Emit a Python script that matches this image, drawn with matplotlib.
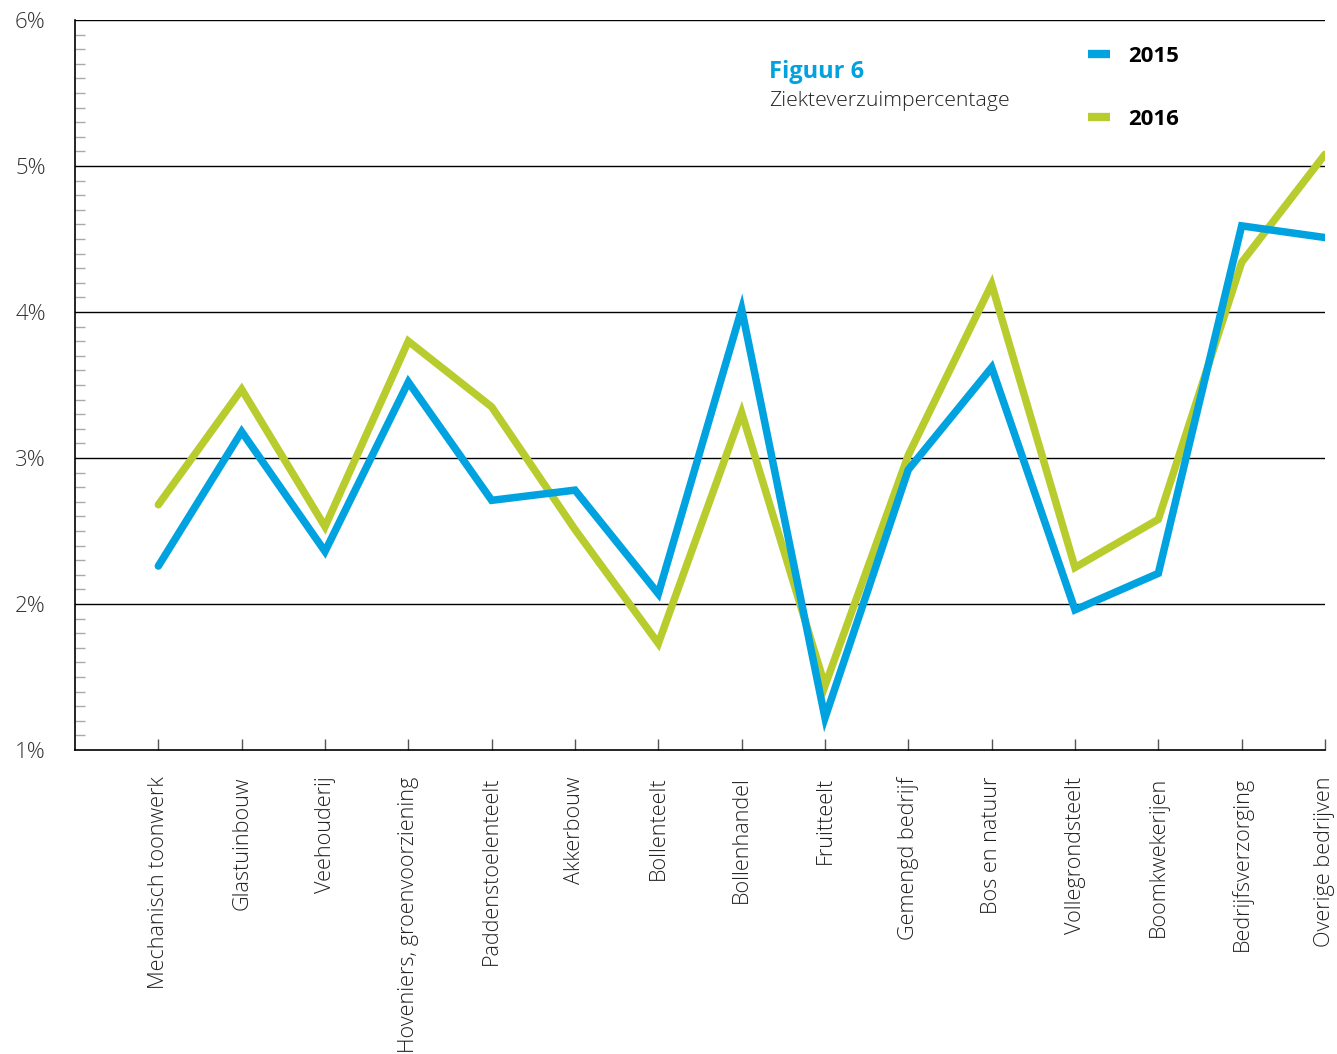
import matplotlib.pyplot as plt
from matplotlib.ticker import MultipleLocator, FuncFormatter

sectoren = ['Mechanisch toonwerk', 'Glastuinbouw', 'Veehouderij', 'Hoveniers, groenvoorziening',
            'Paddenstoelenteelt', 'Akkerbouw', 'Bollenteelt', 'Bollenhandel', 'Fruitteelt',
            'Gemengd bedrijf', 'Bos en natuur', 'Vollegrondsteelt', 'Boomkwekerijen',
            'Bedrijfsverzorging', 'Overige bedrijven']
verzuim_2015 = [2.26, 3.18, 2.36, 3.52, 2.71, 2.78, 2.07, 4.02, 1.22, 2.92, 3.62, 1.96, 2.21, 4.59, 4.51]
verzuim_2016 = [2.68, 3.47, 2.53, 3.80, 3.35, 2.51, 1.73, 3.31, 1.44, 3.02, 4.19, 2.25, 2.58, 4.34, 5.08]

blauw = '#00a3e0'
groen = '#b8cc2e'
plt.rcParams['font.family'] = ['Open Sans', 'DejaVu Sans']

fig = plt.figure(figsize=(13.37, 10.54), dpi=100)
ax = fig.add_axes([75 / 1337, 1 - 750 / 1054, 1250 / 1337, 730 / 1054])

x = list(range(len(sectoren)))
ax.plot(x, verzuim_2015, color=blauw, lw=5.4, solid_capstyle='round', solid_joinstyle='miter', label='2015', zorder=4)
ax.plot(x, verzuim_2016, color=groen, lw=5.4, solid_capstyle='round', solid_joinstyle='miter', label='2016', zorder=3)

ax.set_xlim(-1, 14)
ax.set_ylim(1, 6)
ax.set_yticks([1, 2, 3, 4, 5, 6])
ax.yaxis.set_major_formatter(FuncFormatter(lambda v, p: f'{int(v)}%'))
ax.yaxis.set_minor_locator(MultipleLocator(0.1))
ax.tick_params(axis='y', which='major', length=0, pad=21, labelsize=16, labelcolor='#333333')
ax.tick_params(axis='y', which='minor', direction='in', length=7, width=1, color='#aaaaaa')
for t in ax.get_yticklabels():
    t.set_fontweight('light')

ax.set_xticks(x)
ax.set_xticklabels(sectoren, rotation=90, fontsize=15.6, color='#222222', fontweight='light')
ax.tick_params(axis='x', direction='in', length=8, width=1, color='#555555', pad=19)

for v in [2, 3, 4, 5, 6]:
    ax.axhline(v, color='black', lw=1, zorder=1)

for s in ['top', 'right']:
    ax.spines[s].set_visible(False)
ax.spines['left'].set_linewidth(1.2)
ax.spines['bottom'].set_linewidth(1.2)

fig.text(769 / 1337, 1 - 72 / 1054, 'Figuur 6', color=blauw, fontsize=17, fontweight='bold', va='center')
fig.text(769 / 1337, 1 - 101 / 1054, 'Ziekteverzuimpercentage', color='#222222', fontsize=15.3, fontweight='light', va='center')

leg = ax.legend(loc='upper left', bbox_to_anchor=(1068 / 1337, 1 - 26 / 1054), bbox_transform=fig.transFigure,
                frameon=False, handlelength=1.0, handletextpad=0.8, labelspacing=1.9,
                prop={'size': 16, 'weight': 'bold'})
for h in leg.get_lines():
    h.set_linewidth(6)
    h.set_solid_capstyle('butt')

fig.savefig('out.png', dpi=100)
